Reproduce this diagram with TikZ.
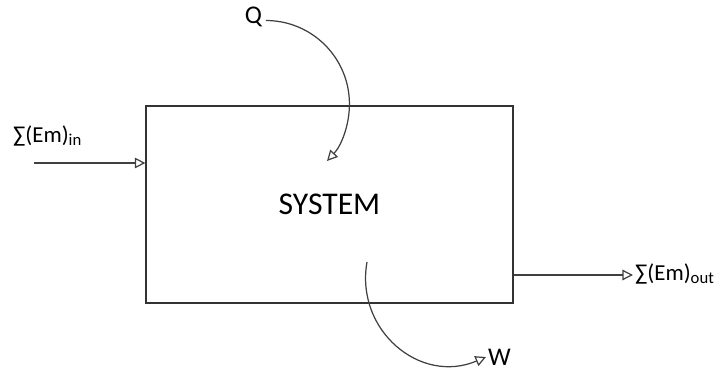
\documentclass[tikz,border=0pt]{standalone}
\usepackage{fontspec}
\setmainfont{Carlito}
\usetikzlibrary{arrows.meta, positioning}

\newcommand{\emflow}[1]{∑(Em)\raisebox{-0.15em}{\fontsize{9.5}{10}\selectfont #1}}

\begin{document}
\begin{tikzpicture}[
    >={Triangle[open, length=6pt, width=6pt]}, % Open arrow tips
    flow/.style={->, draw=black!75, line width=0.7pt}, % Style for connectors
    lbl/.style={inner sep=1pt, font=\fontsize{13}{15}\selectfont} % Style for labels
]
\useasboundingbox (0,0) rectangle (14.52,7.44);

% System box
\node[draw=black!80, line width=0.7pt, minimum width=7.34cm, minimum height=3.94cm,
      font=\fontsize{18}{20}\selectfont] (sys) at (6.59,3.35) {SYSTEM};

% Labels
\node[lbl, anchor=west] (inLbl) at (0.22,4.72) {\emflow{in}};
\node[lbl, anchor=west] (outLbl) at (12.66,1.96) {\emflow{out}};
\node[lbl, font=\fontsize{14.5}{16}\selectfont] (Q) at (5.07,7.10) {Q};
\node[lbl, anchor=west, font=\fontsize{14.5}{16}\selectfont] (W) at (9.72,0.30) {W};

% Free ends of connectors
\coordinate (inS) at (0.68,4.18);
\coordinate (outS) at (0,1.94);
\coordinate (wS) at (7.34,2.20);

% Mass flow in and out
\draw[flow] (inS) -- (inS -| sys.west);
\draw[flow] (outS -| sys.east) -- (outLbl.west |- outS);

% Heat and work
\draw[flow] ([xshift=1pt,yshift=-2pt]Q.east) arc[start angle=90, end angle=-43, radius=1.67];
\draw[flow] (wS) .. controls (7.10,0.84) and (8.40,-0.26) .. (W.west);

\end{tikzpicture}
\end{document}
